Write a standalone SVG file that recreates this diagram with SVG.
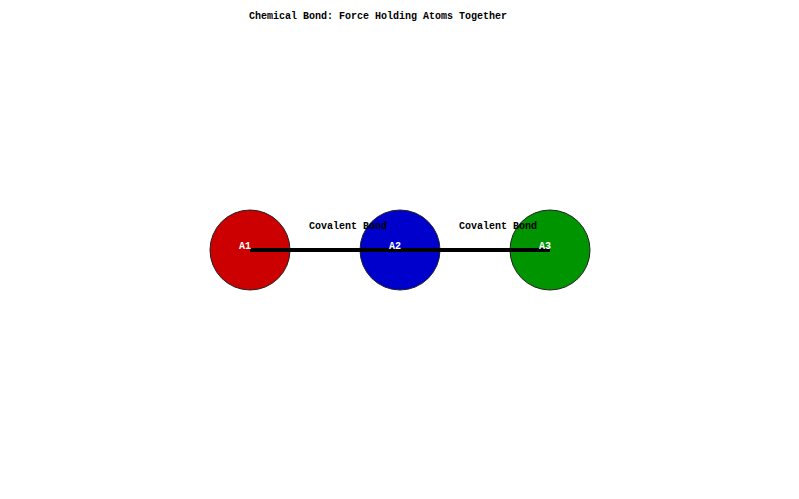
<svg xmlns="http://www.w3.org/2000/svg" width="799" height="499" viewBox="0 0 799 499">
<style>
text{font-family:"Liberation Mono","Courier New",monospace;font-weight:bold;font-size:10px}
.atom{stroke:#222;stroke-width:1}
.lbl{fill:#fff}
.bond{stroke:#000;stroke-width:4}
</style>
<rect width="799" height="499" fill="#fff"/>
<text x="378" y="19" text-anchor="middle">Chemical Bond: Force Holding Atoms Together</text>
<g id="A1"><circle class="atom" cx="250" cy="250" r="40" fill="#cc0000"/></g>
<g id="A2"><circle class="atom" cx="400" cy="250" r="40" fill="#0000cc"/></g>
<g id="A3"><circle class="atom" cx="550" cy="250" r="40" fill="#009400"/></g>
<g id="connectors">
<line class="bond" x1="250" y1="250" x2="400" y2="250"/>
<line class="bond" x1="400" y1="250" x2="550" y2="250"/>
<text x="309" y="229">Covalent Bond</text>
<text x="459" y="229">Covalent Bond</text>
</g>
<text class="lbl" x="245" y="249" text-anchor="middle">A1</text>
<text class="lbl" x="395" y="249" text-anchor="middle">A2</text>
<text class="lbl" x="545" y="249" text-anchor="middle">A3</text>
</svg>
